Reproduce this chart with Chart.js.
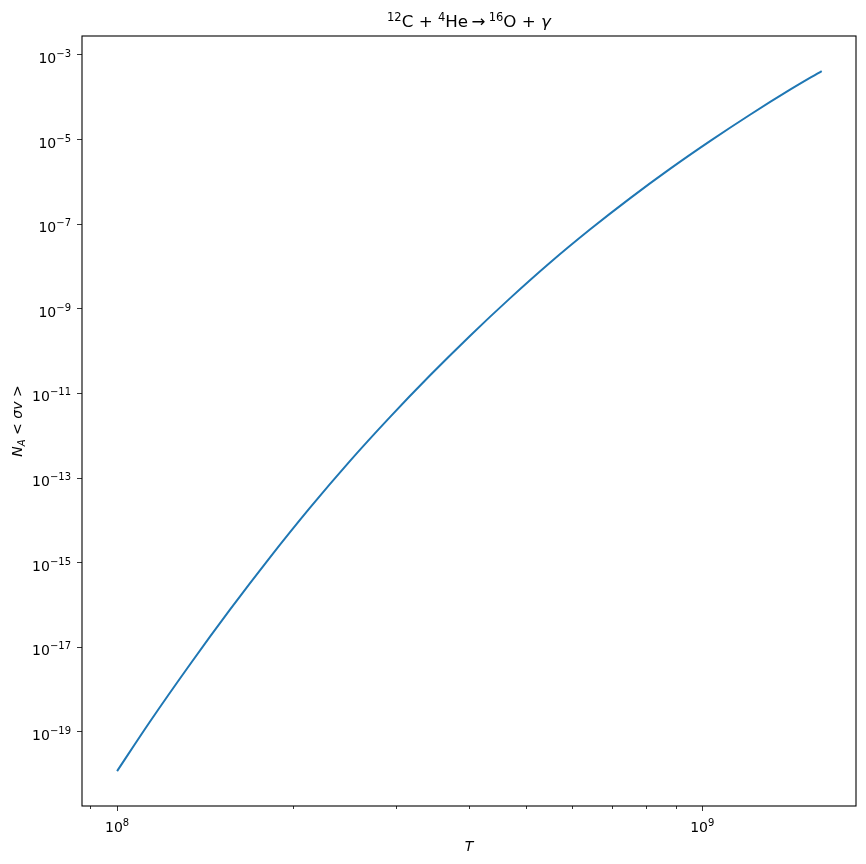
<!DOCTYPE html>
<html>
<head>
<meta charset="utf-8">
<script src="https://cdn.jsdelivr.net/npm/chart.js@4.4.1/dist/chart.umd.min.js"></script>
<style>
  html, body { margin: 0; padding: 0; background: #fff; }
  #wrap { width: 866px; height: 864px; }
</style>
</head>
<body>
<div id="wrap"><canvas id="chart"></canvas></div>
<script>
// temperature (K) and rate
const temperatures = [1.0e8, 1.137e8, 1.331e8, 1.558e8, 1.824e8, 2.135e8, 2.499e8, 2.926e8, 3.424e8,
  4.008e8, 4.691e8, 5.491e8, 6.427e8, 7.523e8, 8.806e8, 1.0308e9, 1.2066e9, 1.4125e9, 1.6e9];
const rates = [1.19e-20, 1.72e-19, 3.88e-18, 7.65e-17, 1.32e-15, 1.97e-14, 2.52e-13, 2.76e-12, 2.65e-11,
  2.29e-10, 1.77e-9, 1.23e-8, 7.49e-8, 4.09e-7, 2.03e-6, 9.2e-6, 3.87e-5, 1.51e-4, 4.18e-4];

const xMajorTicks = [1e8, 1e9];
const xMinorTicks = [9e7, 2e8, 3e8, 4e8, 5e8, 6e8, 7e8, 8e8, 9e8];
const yMajorTicks = [1e-19, 1e-17, 1e-15, 1e-13, 1e-11, 1e-9, 1e-7, 1e-5, 1e-3];

const xRange = [8.71e7, 1.831e9];
const yRange = [1.78e-21, 2.81e-3];

const FONT = 'DejaVu Sans';

function expOf(v) {
  return String(Math.round(Math.log10(v))).replace('-', '\u2212');
}

// text pieces {t, f, dy} drawn one after another
function runWidth(ctx, parts) {
  let w = 0;
  parts.forEach(p => { ctx.font = p.f; w += ctx.measureText(p.t).width; });
  return w;
}
function drawRun(ctx, parts, x, y) {
  ctx.textAlign = 'left';
  parts.forEach(p => {
    ctx.font = p.f;
    ctx.fillText(p.t, x, y + (p.dy || 0));
    x += ctx.measureText(p.t).width;
  });
}
function powParts(v) {
  return [
    { t: '10', f: '14px ' + FONT },
    { t: expOf(v), f: '10px ' + FONT, dy: -6 }
  ];
}

const framePlugin = {
  id: 'frame',
  afterDraw(chart) {
    const { ctx, chartArea: a, scales } = chart;
    ctx.save();
    ctx.strokeStyle = '#000';
    ctx.fillStyle = '#000';
    ctx.lineWidth = 1.1;
    ctx.strokeRect(a.left, a.top, a.right - a.left, a.bottom - a.top);

    // minor ticks on x
    ctx.lineWidth = 0.8;
    xMinorTicks.forEach(v => {
      const x = Math.round(scales.x.getPixelForValue(v)) + 0.5;
      ctx.beginPath();
      ctx.moveTo(x, a.bottom);
      ctx.lineTo(x, a.bottom + 3);
      ctx.stroke();
    });

    ctx.textBaseline = 'alphabetic';

    // tick labels
    yMajorTicks.forEach(v => {
      const py = scales.y.getPixelForValue(v);
      const parts = powParts(v);
      const w = runWidth(ctx, parts);
      drawRun(ctx, parts, a.left - 11 - w, py + 8);
    });
    xMajorTicks.forEach(v => {
      const px = scales.x.getPixelForValue(v);
      const parts = powParts(v);
      const w = runWidth(ctx, parts);
      drawRun(ctx, parts, px - w / 2, a.bottom + 26);
    });

    // title
    const base = '16.7px ' + FONT;
    const sup = '11.5px ' + FONT;
    const title = [
      { t: '12', f: sup, dy: -6.5 },
      { t: 'C + ', f: base },
      { t: '4', f: sup, dy: -6.5 },
      { t: 'He\u2009\u2192\u2009', f: base },
      { t: '16', f: sup, dy: -6.5 },
      { t: 'O + ', f: base },
      { t: '\u03b3', f: 'italic 16.7px ' + FONT }
    ];
    const tw = runWidth(ctx, title);
    drawRun(ctx, title, (a.left + a.right) / 2 - tw / 2, 27);

    // axis labels
    ctx.font = 'italic 14px ' + FONT;
    ctx.textAlign = 'center';
    ctx.fillText('T', (a.left + a.right) / 2, 851);

    // y label: N_A < σv >
    ctx.translate(22, (a.top + a.bottom) / 2);
    ctx.rotate(-Math.PI / 2);
    const ylab = [
      { t: 'N', f: 'italic 14px ' + FONT },
      { t: 'A', f: 'italic 10px ' + FONT, dy: 3 },
      { t: ' < ', f: '14px ' + FONT },
      { t: '\u03c3v', f: 'italic 14px ' + FONT },
      { t: ' >', f: '14px ' + FONT }
    ];
    drawRun(ctx, ylab, -runWidth(ctx, ylab) / 2, 0);
    ctx.restore();
  }
};

new Chart(document.getElementById('chart'), {
  type: 'line',
  data: {
    labels: temperatures,
    datasets: [{
      data: temperatures.map((t, i) => ({ x: t, y: rates[i] })),
      borderColor: '#1f77b4',
      borderWidth: 2,
      pointRadius: 0,
      cubicInterpolationMode: 'monotone',
      fill: false
    }]
  },
  options: {
    responsive: true,
    maintainAspectRatio: false,
    animation: false,
    layout: { padding: { right: 10, left: 0, bottom: 0, top: 36 } },
    plugins: {
      legend: { display: false },
      tooltip: { enabled: false },
      title: { display: false }
    },
    scales: {
      x: {
        type: 'logarithmic',
        min: xRange[0],
        max: xRange[1],
        afterBuildTicks: s => { s.ticks = xMajorTicks.map(v => ({ value: v })); },
        afterFit: s => { s.height = 58; },
        border: { display: false },
        grid: { drawOnChartArea: false, tickLength: 5, tickColor: '#000', tickWidth: 0.8 },
        ticks: { display: false }
      },
      y: {
        type: 'logarithmic',
        min: yRange[0],
        max: yRange[1],
        afterBuildTicks: s => { s.ticks = yMajorTicks.map(v => ({ value: v })); },
        afterFit: s => { s.width = 82; },
        border: { display: false },
        grid: { drawOnChartArea: false, tickLength: 5, tickColor: '#000', tickWidth: 0.8 },
        ticks: { display: false }
      }
    }
  },
  plugins: [framePlugin]
});
</script>
</body>
</html>
